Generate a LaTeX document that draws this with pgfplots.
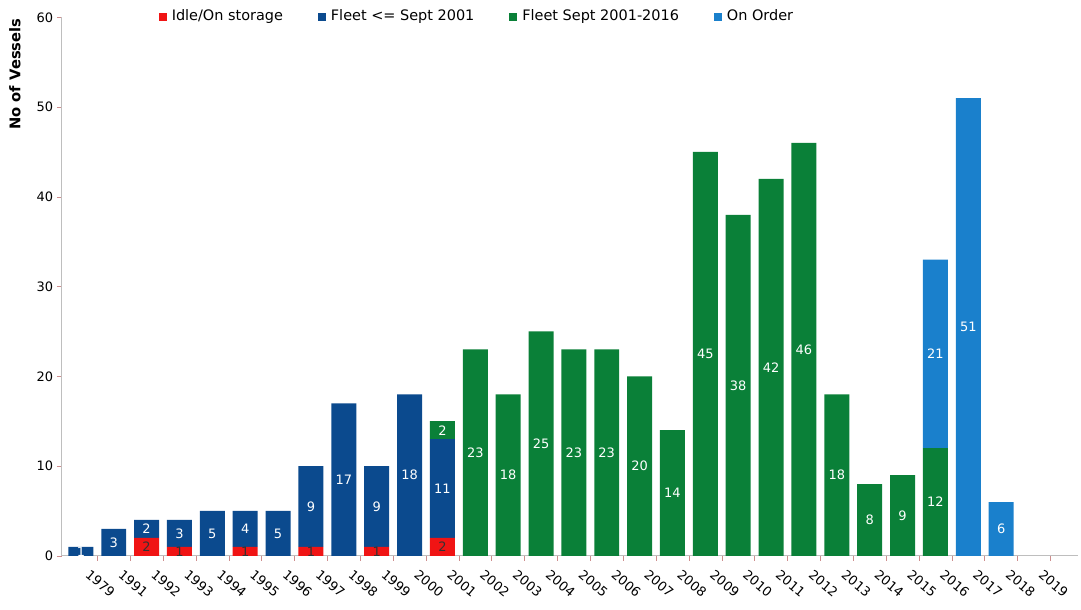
\documentclass[border=0pt]{standalone}
\usepackage{pgfplots}
\pgfplotsset{compat=1.18}
\usepackage{pgfplotstable}
\usepackage{fontspec}
\setmainfont{DejaVu Sans}

\definecolor{idle}{HTML}{F01414}
\definecolor{oldfleet}{HTML}{0B4A8E}
\definecolor{newfleet}{HTML}{0A8038}
\definecolor{onorder}{HTML}{1A80CC}
\definecolor{axgray}{HTML}{BEBEBE}

% idx: 0=1979, 1=1991 ... 29=2019
\pgfplotstableread{
idx idle fleet newf order
0  0 1  0  0
1  0 3  0  0
2  2 2  0  0
3  1 3  0  0
4  0 5  0  0
5  1 4  0  0
6  0 5  0  0
7  1 9  0  0
8  0 17 0  0
9  1 9  0  0
10 0 18 0  0
11 2 11 2  0
12 0 0  23 0
13 0 0  18 0
14 0 0  25 0
15 0 0  23 0
16 0 0  23 0
17 0 0  20 0
18 0 0  14 0
19 0 0  45 0
20 0 0  38 0
21 0 0  42 0
22 0 0  46 0
23 0 0  18 0
24 0 0  8  0
25 0 0  9  0
26 0 0  12 21
27 0 0  0  51
28 0 0  0  6
29 0 0  0  0
}\vessels

% segment labels (stacked nodes already sit mid-segment)
\pgfplotsset{
  seglabel/.style 2 args={
    visualization depends on={\thisrow{#1}\as\val},
    nodes near coords={\ifdim\val pt>0.5pt \pgfmathprintnumber{\val}\fi},
    every node near coord/.append style={anchor=center,
      text=#2, font=\fontsize{5.2}{6}\selectfont, inner sep=0pt},
  },
}

\begin{document}
\begin{tikzpicture}
\begin{axis}[
  ybar stacked,
  bar width=0.76,
  scale only axis,
  width=407.6pt, y=3.6pt,
  xmin=-0.58, xmax=30.34, ymin=0, ymax=60,
  axis lines=left,
  axis line style={draw=axgray, -},
  xtick={0,...,29},
  xticklabels={1979,1991,1992,1993,1994,1995,1996,1997,1998,1999,2000,2001,2002,2003,2004,2005,2006,2007,2008,2009,2010,2011,2012,2013,2014,2015,2016,2017,2018,2019},
  minor xtick={0.5,1.5,...,29.5},
  ytick={0,10,...,60},
  minor ytick={0,10,...,60},
  major tick length=0pt,
  minor tick length=2pt,
  tick align=outside,
  minor tick style={draw=red!25!axgray},
  xticklabel style={rotate=-40, anchor=north west, xshift=3pt, yshift=2pt,
    font=\fontsize{5.2}{6}\selectfont},
  yticklabel style={font=\fontsize{5.2}{6}\selectfont},
  /pgf/number format/assume math mode=true,
  ylabel={\textbf{No of Vessels}},
  ylabel style={at={([xshift=-13pt,yshift=3pt]rel axis cs:0,1)}, anchor=south east,
    font=\fontsize{5.9}{6}\selectfont},
  legend style={at={(rel axis cs:0.41,1)}, anchor=center, draw=none, fill=none,
    legend columns=-1, font=\fontsize{5.8}{6}\selectfont,
    /tikz/every even column/.append style={column sep=12pt}},
  legend image code/.code={\fill[#1] (0pt,-1.6pt) rectangle (3.2pt,1.6pt);},
]
\addplot[fill=idle, draw=none, seglabel={idle}{black!80}] table[x=idx, y=idle] {\vessels};
\addplot[fill=oldfleet, draw=none, seglabel={fleet}{white}] table[x=idx, y=fleet] {\vessels};
\addplot[fill=newfleet, draw=none, seglabel={newf}{white}] table[x=idx, y=newf] {\vessels};
\addplot[fill=onorder, draw=none, seglabel={order}{white}] table[x=idx, y=order] {\vessels};
\legend{Idle/On storage, Fleet <= Sept 2001, Fleet Sept 2001-2016, On Order}
\end{axis}
\path ([xshift=-24.8pt,yshift=-21.2pt]current axis.south west)
  rectangle ([yshift=6.4pt]current axis.north east);
\end{tikzpicture}
\end{document}
